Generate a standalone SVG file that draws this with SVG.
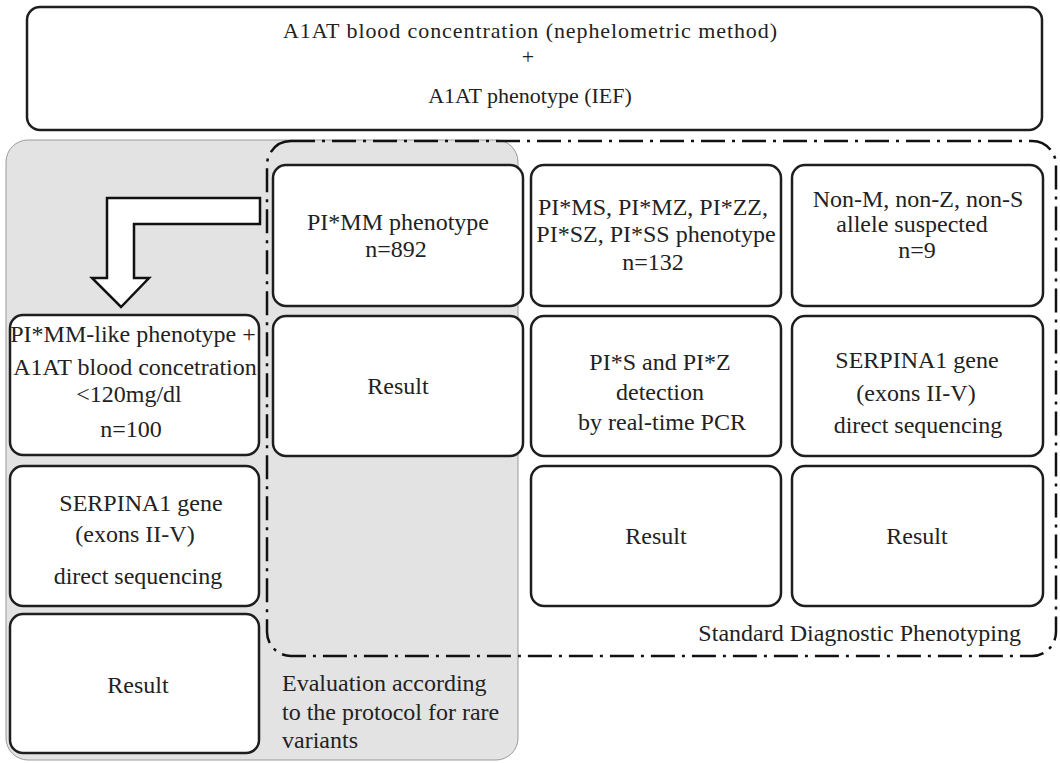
<svg xmlns="http://www.w3.org/2000/svg" width="1060" height="763" viewBox="0 0 1060 763">
<style>
.box{fill:#fff;stroke:#1e1e1e;stroke-width:2.5}
.t{font-family:"Liberation Serif","Times New Roman",serif;font-size:24px;fill:#222;text-anchor:middle}
.tt{font-family:"Liberation Serif","Times New Roman",serif;font-size:22px;fill:#222;text-anchor:middle}
.tl{font-family:"Liberation Serif","Times New Roman",serif;font-size:24px;fill:#222;text-anchor:start}
.panel{fill:#e3e3e3;stroke:#9a9a9a;stroke-width:1}
.dash{fill:none;stroke:#111;stroke-width:2.5;stroke-dasharray:24 7 3 7}
</style>
<rect width="1060" height="763" fill="#fff"/>
<g id="rare-variants-panel">
  <rect class="panel" x="6" y="140" width="512" height="620" rx="22"/>
  <text class="tl" x="282" y="691">Evaluation according</text>
  <text class="tl" x="282" y="720">to the protocol for rare</text>
  <text class="tl" x="282" y="748">variants</text>
</g>
<g id="standard-phenotyping-panel">
  <rect class="dash" x="267" y="141" width="789" height="515" rx="24"/>
  <text class="t" x="1021" y="641" style="text-anchor:end">Standard Diagnostic Phenotyping</text>
</g>
<g id="top">
  <rect class="box" x="27" y="7" width="1015" height="123" rx="13"/>
  <text class="tt" x="530" y="38" textLength="494" lengthAdjust="spacing">A1AT blood concentration (nephelometric method)</text>
  <text class="tt" x="528" y="64">+</text>
  <text class="tt" x="530" y="103">A1AT phenotype (IEF)</text>
</g>
<g id="pimm">
  <rect class="box" x="273" y="165" width="250" height="141" rx="13"/>
  <text class="t" x="398" y="230">PI*MM phenotype</text>
  <text class="t" x="396" y="257">n=892</text>
</g>
<g id="pims">
  <rect class="box" x="531" y="165" width="250" height="141" rx="13"/>
  <text class="t" x="653" y="215">PI*MS, PI*MZ, PI*ZZ,</text>
  <text class="t" x="656" y="242">PI*SZ, PI*SS phenotype</text>
  <text class="t" x="653" y="270">n=132</text>
</g>
<g id="nonm">
  <rect class="box" x="792" y="165" width="251" height="141" rx="13"/>
  <text class="t" x="918" y="207">Non-M, non-Z, non-S</text>
  <text class="t" x="912" y="232">allele suspected</text>
  <text class="t" x="917" y="258">n=9</text>
</g>
<g id="pimm-like">
  <rect class="box" x="10" y="315" width="249" height="140" rx="13"/>
  <text class="t" x="133" y="342">PI*MM-like phenotype +</text>
  <text class="t" x="135" y="375">A1AT blood concetration</text>
  <text class="t" x="129" y="402">&lt;120mg/dl</text>
  <text class="t" x="131" y="437">n=100</text>
</g>
<g id="pimm-result">
  <rect class="box" x="273" y="316" width="250" height="140" rx="13"/>
  <text class="t" x="398" y="394">Result</text>
</g>
<g id="pcr">
  <rect class="box" x="531" y="316" width="250" height="140" rx="13"/>
  <text class="t" x="660" y="370">PI*S and PI*Z</text>
  <text class="t" x="660" y="400">detection</text>
  <text class="t" x="662" y="430">by real-time PCR</text>
</g>
<g id="seq-std">
  <rect class="box" x="792" y="316" width="251" height="140" rx="13"/>
  <text class="t" x="917" y="368">SERPINA1 gene</text>
  <text class="t" x="916" y="401">(exons II-V)</text>
  <text class="t" x="918" y="433">direct sequencing</text>
</g>
<g id="seq-rare">
  <rect class="box" x="10" y="466" width="249" height="140" rx="13"/>
  <text class="t" x="141" y="511">SERPINA1 gene</text>
  <text class="t" x="135" y="542">(exons II-V)</text>
  <text class="t" x="138" y="584">direct sequencing</text>
</g>
<g id="pcr-result">
  <rect class="box" x="531" y="466" width="250" height="140" rx="13"/>
  <text class="t" x="656" y="544">Result</text>
</g>
<g id="seq-std-result">
  <rect class="box" x="792" y="466" width="251" height="140" rx="13"/>
  <text class="t" x="917" y="544">Result</text>
</g>
<g id="rare-result">
  <rect class="box" x="10" y="614" width="249" height="139" rx="13"/>
  <text class="t" x="138" y="693">Result</text>
</g>
<g id="connectors">
  <path d="M260,198 L107,198 L107,278 L92,278 L121,307 L149,278 L134,278 L134,224 L260,224 Z" fill="#fff" stroke="#111" stroke-width="2.5" stroke-linejoin="miter"/>
</g>
</svg>
